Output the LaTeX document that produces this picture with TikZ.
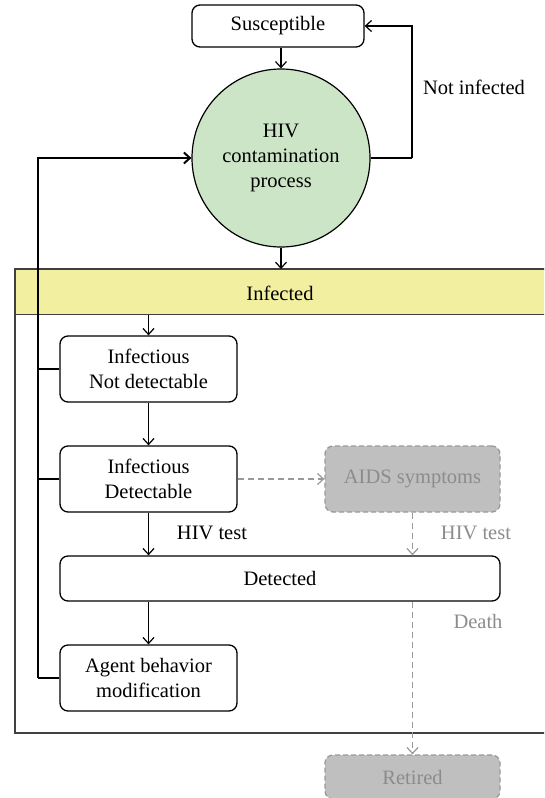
\documentclass[tikz,border=0pt]{standalone}
\usepackage{fontspec}
\setmainfont{Liberation Serif}
\usetikzlibrary{arrows.meta}
\definecolor{hivgreen}{HTML}{CCE5C6}
\definecolor{infyellow}{HTML}{F2F0A0}
\definecolor{boxgray}{HTML}{BFBFBF}
\definecolor{dashgray}{HTML}{999999}
\definecolor{txtgray}{HTML}{8C8C8C}
\definecolor{frame}{HTML}{404040}
\tikzset{
  every node/.style={font=\fontsize{20.5}{25}\selectfont},
  tip/.style={-{Straight Barb[length=6pt,width=11pt]}},
  statebox/.style={draw, line width=1.3pt, rounded corners=8pt, align=center, inner sep=0pt},
  ghostbox/.style={draw=dashgray, dash pattern=on 5pt off 3pt, line width=1.3pt, fill=boxgray, rounded corners=8pt, align=center, inner sep=0pt, text=txtgray},
  conn/.style={tip, line width=1.2pt},
  ghostconn/.style={tip, line width=1.2pt, draw=dashgray, dash pattern=on 6pt off 4pt},
  fb/.style={line width=2pt},
  lbl/.style={inner sep=0pt},
  glbl/.style={inner sep=0pt, text=txtgray}
}
\begin{document}
\begin{tikzpicture}[x=1pt,y=-1pt]
\useasboundingbox (0,0) rectangle (544,798);
\clip (0,0) rectangle (544,798);
% infected frame
\draw[frame, line width=1.3pt] (15,269) rectangle (560,733);
\node[draw=frame, line width=1.3pt, fill=infyellow, minimum width=545pt, minimum height=45pt, inner sep=0pt, anchor=north west] (inf) at (15,269) {};
\node[lbl] (inftxt) at (280,293) {Infected};
% nodes
\node[statebox, minimum width=172pt, minimum height=42pt] (sus) at (278,26) {Susceptible};
\node[draw, line width=1.2pt, circle, fill=hivgreen, minimum size=178pt, inner sep=0pt, align=center] (hiv) at (281,158) {HIV\\contamination\\process};
\node[statebox, minimum width=177pt, minimum height=66pt] (ind) at (148.5,369) {Infectious\\Not detectable};
\node[statebox, minimum width=177pt, minimum height=66pt] (id) at (148.5,479) {Infectious\\Detectable};
\node[ghostbox, minimum width=175pt, minimum height=66pt] (aids) at (412.5,479) {AIDS symptoms};
\node[statebox, minimum width=440pt, minimum height=45pt] (det) at (280,578.5) {Detected};
\node[statebox, minimum width=177pt, minimum height=66pt] (abm) at (148.5,678) {Agent behavior\\modification};
\node[ghostbox, minimum width=175pt, minimum height=44pt] (ret) at (412.5,777) {Retired};
% labels
\node[lbl] (notinf) at (474,87) {Not infected};
\node[lbl] (hivtest) at (212,533) {HIV test};
\node[glbl] (hivtest2) at (476,533) {HIV test};
\node[glbl] (death) at (478,621) {Death};
% connectors
\draw[conn] (sus.south -| 281,0) -- (hiv.north);
\draw[line width=1.2pt] (hiv.east) -- (412,158) coordinate (ni1);
\draw[conn] (ni1) |- (sus.east);
\draw[conn] (hiv.south) -- (hiv.south |- inf.north);
\draw[conn] (inf.south -| ind.north) -- (ind.north);
\draw[conn] (ind.south) -- (id.north);
\draw[conn] (id.south) -- (id.south |- det.north);
\draw[conn] (det.south -| abm.north) -- (abm.north);
\draw[ghostconn] (id.east) -- (aids.west);
\draw[ghostconn] (aids.south) -- (aids.south |- det.north);
\draw[ghostconn] (det.south -| aids.south) -- (ret.north);
% feedback
\coordinate (fbb) at (38,678);
\draw[fb] (fbb) |- (hiv.west);
\draw[fb, tip, line width=2pt] (38,158) -- (hiv.west);
\draw[line width=1.2pt] (abm.west) -- (fbb);
\draw[line width=1.2pt] (ind.west) -- (38,369);
\draw[line width=1.2pt] (id.west) -- (38,479);
\end{tikzpicture}
\end{document}
